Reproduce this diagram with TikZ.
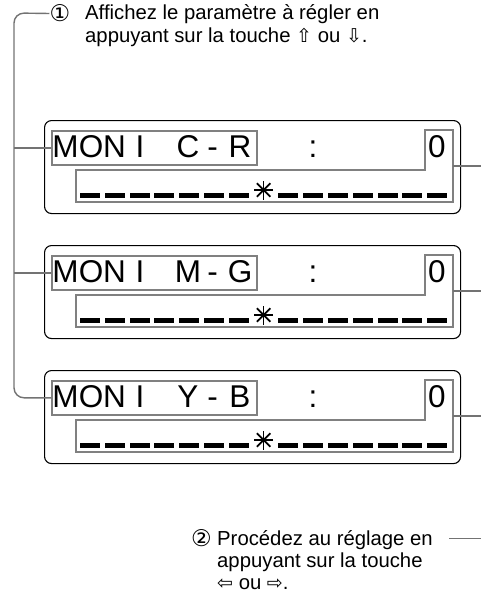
\documentclass[tikz,border=0pt]{standalone}
\usepackage{fontspec}
\usetikzlibrary{calc}
\setmainfont{Liberation Sans}
\newfontfamily\dejavu{DejaVu Sans}
\newcommand\keyf{\dejavu\fontsize{19}{19}\selectfont}
\begin{document}
\begin{tikzpicture}[x=1pt,y=-1pt,
  conn/.style={draw=black!55, line width=1.4pt},
  lcdbox/.style={draw=black, line width=1.1pt, rounded corners=7pt},
  framebox/.style={draw=black!50, line width=1.6pt},
  lcdch/.style={inner sep=0, anchor=base, font=\fontsize{31.5}{31.5}\selectfont},
  seg/.style={fill=black, minimum width=20pt, minimum height=5pt, inner sep=0},
  star/.style={draw=black, line width=1.7pt},
  note/.style={inner sep=0, anchor=base west, font=\fontsize{20.3}{22}\selectfont},
  circ/.style={inner sep=0, font=\dejavu\fontsize{23}{23}\selectfont},
]
\useasboundingbox (0,0) rectangle (481,594);

% top instruction
\node[circ] (c1) at (60,13.5) {①};
\node[note] (t1) at (85,20) {Affichez le paramètre à régler en};
\node[note] (t2) at (85,42.5) {appuyant sur la touche {\keyf ⇧} ou {\keyf ⇩}.};

\coordinate (vl) at (14,0);

\foreach \T/\a/\b/\n in {120/C/R/1,245/M/G/2,370/Y/B/3}{
  \node[lcdbox, minimum width=416pt, minimum height=93pt, inner sep=0, anchor=north west] (lcd\n) at (44,\T) {};
  \node[framebox, minimum width=205pt, minimum height=34pt, inner sep=0, anchor=north west] (lab\n) at (51,\T+10) {};
  \draw[framebox] (425,\T+10) -- (453,\T+10) -- (453,\T+82) -- (76,\T+82) -- (76,\T+50) -- (425,\T+50) -- cycle;
  \node[lcdch] (m\n) at (65.5,\T+37.5) {M};
  \node[lcdch] (o\n) at (91,\T+37.5) {O};
  \node[lcdch] (n\n) at (114.5,\T+37.5) {N};
  \node[lcdch] (i\n) at (140,\T+37.5) {I};
  \node[lcdch] (a\n) at (188,\T+37.5) {\a};
  \node[lcdch] (h\n) at (212.5,\T+37.5) {-};
  \node[lcdch] (b\n) at (240,\T+37.5) {\b};
  \node[lcdch] (k\n) at (313,\T+37.5) {:};
  \node[lcdch] (z\n) at (437,\T+37.5) {0};
  \foreach \k in {0,...,6,8,9,...,14}{
    \node[seg] (d\n-\k) at (90+\k*24.8,\T+75) {};
  }
  \coordinate (s\n) at (263.6,\T+70);
  \foreach \ang in {0,45,90,135}{
    \draw[star] ($(s\n)+(\ang:9.5)$) -- ($(s\n)+(\ang+180:9.5)$);
  }
  \coordinate (r\n) at (453,\T+46);
  \coordinate (re\n) at (481,\T+46);
  \draw[conn] (r\n) -- (re\n);
}

% left bracket
\draw[conn, rounded corners=10pt] (c1.west) -- (14,13) -- (lab3.west -| vl) -- (lab3.west);
\draw[conn] (lab1.west -| vl) -- (lab1.west);
\draw[conn] (lab2.west -| vl) -- (lab2.west);

% bottom instruction
\node[circ] (c2) at (201.5,538.5) {②};
\node[note] (u1) at (217,545.5) {Procédez au réglage en};
\node[note] (u2) at (217,567.5) {appuyant sur la touche};
\node[note] (u3) at (217,589.5) {{\keyf ⇦} ou {\keyf ⇨}.};
\coordinate (bl) at (449,538.5);
\coordinate (br) at (481,538.5);
\draw[conn] (bl) -- (br);
\end{tikzpicture}
\end{document}
